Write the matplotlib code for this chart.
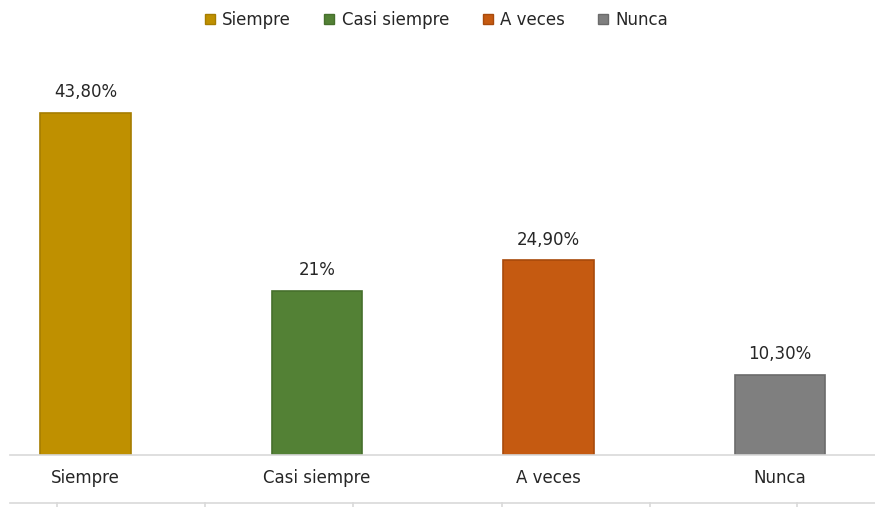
import matplotlib
matplotlib.use("Agg")
import matplotlib.pyplot as plt
from matplotlib.lines import Line2D

categorias = ['Siempre', 'Casi siempre', 'A veces', 'Nunca']
valores = [43.8, 21.0, 24.9, 10.3]
etiquetas = ['43,80%', '21%', '24,90%', '10,30%']
colores = ['#BF9000', '#538135', '#C55A11', '#7F7F7F']
bordes = ['#A67D00', '#46702C', '#A84A0C', '#6B6B6B']

plt.rcParams['font.family'] = ['DejaVu Sans']

fig = plt.figure(figsize=(8.75, 5.07), dpi=100)
ax = fig.add_axes([10 / 875, 52 / 507, 865 / 875, 415 / 507])

x = list(range(len(categorias)))
barras = ax.bar(x, valores, width=0.39, color=colores, edgecolor=bordes, linewidth=1.2)

for xi, v, t in zip(x, valores, etiquetas):
    ax.text(xi, v + 1.5, t, ha='center', va='bottom', fontsize=12, color='#262626')

ax.set_xlim(-0.326, 3.41)
ax.set_ylim(0, 53.1)
ax.set_xticks(x)
ax.set_xticklabels(categorias, fontsize=12, color='#262626')
ax.tick_params(axis='x', length=0, pad=10)
ax.set_yticks([])
for s in ['top', 'right', 'left']:
    ax.spines[s].set_visible(False)
ax.spines['bottom'].set_color('#D9D9D9')
ax.spines['bottom'].set_linewidth(1.2)

# leyenda
handles = [plt.Rectangle((0, 0), 1, 1, facecolor=c, edgecolor=b) for c, b in zip(colores, bordes)]
fig.legend(handles, categorias, loc='center', bbox_to_anchor=(0.499, 1 - 20 / 507), ncol=4,
           frameon=False, fontsize=12, handlelength=0.6, handleheight=0.6,
           handletextpad=0.45, columnspacing=2.0, labelcolor='#262626')

# linea inferior con divisiones
yb = 1 - 503 / 507
fig.add_artist(Line2D([10 / 875, 1], [yb, yb], color='#D9D9D9', lw=1.2))
for px in [57, 205, 353, 502, 650, 797]:
    fig.add_artist(Line2D([px / 875, px / 875], [yb, yb - 6 / 507], color='#D9D9D9', lw=1.2))

fig.savefig('out.png', dpi=100)
